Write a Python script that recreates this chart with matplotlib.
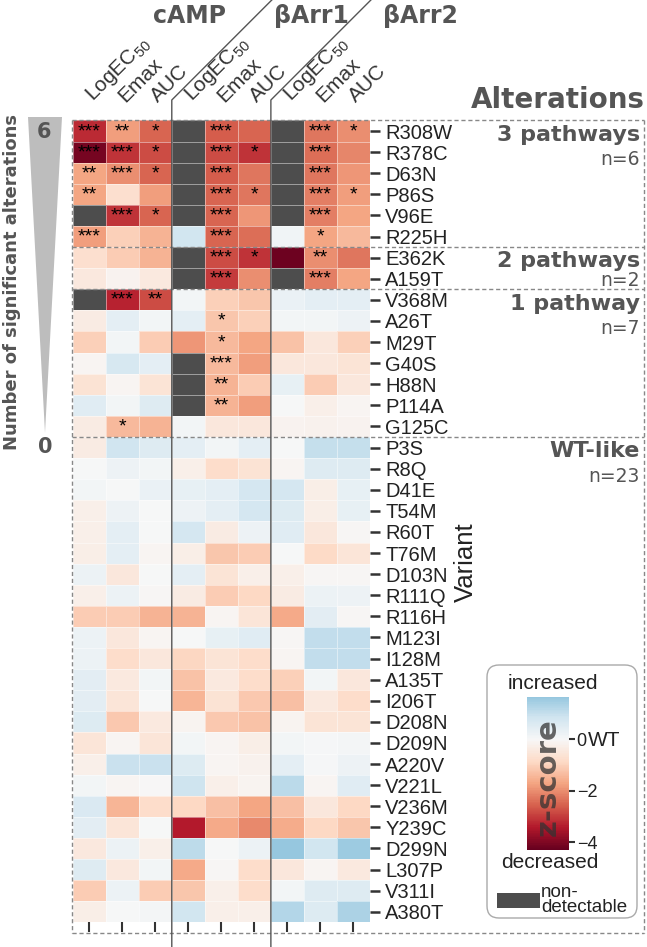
import numpy as np
import matplotlib
matplotlib.use("Agg")
import matplotlib.pyplot as plt
from matplotlib.colors import ListedColormap, Normalize
from matplotlib.cm import ScalarMappable
from matplotlib.patches import Polygon, FancyBboxPatch, Rectangle
import matplotlib.transforms as mtransforms

plt.rcParams['font.family'] = ['Liberation Sans', 'DejaVu Sans']
plt.rcParams['mathtext.default'] = 'regular'

# ---- data ----
variants = ['R308W', 'R378C', 'D63N', 'P86S', 'V96E', 'R225H',
            'E362K', 'A159T',
            'V368M', 'A26T', 'M29T', 'G40S', 'H88N', 'P114A', 'G125C',
            'P3S', 'R8Q', 'D41E', 'T54M', 'R60T', 'T76M', 'D103N', 'R111Q',
            'R116H', 'M123I', 'I128M', 'A135T', 'I206T', 'D208N', 'D209N',
            'A220V', 'V221L', 'V236M', 'Y239C', 'D299N', 'L307P', 'V311I', 'A380T']
pathways = ['cAMP', 'βArr1', 'βArr2']
measures = ['LogEC$_{50}$', 'Emax', 'AUC']
group_names = ['3 pathways', '2 pathways', '1 pathway', 'WT-like']
group_sizes = [6, 2, 7, 23]

nan = np.nan
# z-scores: cAMP (LogEC50, Emax, AUC), bArr1 (...), bArr2 (...); nan = non-detectable
zscores = np.array([
    [-3.2, -1.8, -2.5, nan, -2.6, -2.5, nan, -2.3, -2.0],
    [-4.1, -3.1, -2.8, nan, -2.8, -3.1, nan, -2.4, -2.1],
    [-1.7, -2.0, -2.5, nan, -2.6, -2.3, nan, -2.3, -1.9],
    [-1.7, -0.7, -1.8, nan, -2.5, -2.3, nan, -2.2, -1.8],
    [nan, -3.1, -2.5, nan, -2.5, -1.9, nan, -2.2, -1.7],
    [-1.8, -1.0, -1.5, 0.8, -2.5, -2.4, 0.15, -1.7, -1.4],
    [-0.7, -1.1, -1.5, nan, -2.8, -3.1, -4.2, -2.0, -2.3],
    [-0.45, -0.15, -0.4, nan, -3.0, -2.0, nan, -2.2, -1.7],
    [nan, -3.3, -2.8, 0.1, -1.0, -1.2, 0.3, 0.4, 0.4],
    [-0.35, 0.4, 0.1, 0.4, -1.2, -1.0, 0.1, 0.1, 0.2],
    [-1.0, 0.1, -1.1, -1.9, -1.4, -1.7, -1.25, -0.5, -1.0],
    [-0.1, 0.7, 0.4, nan, -1.4, -1.8, -0.5, -0.5, -0.6],
    [-0.65, -0.1, -0.6, nan, -1.5, -1.1, 0.35, -1.1, -0.5],
    [0.5, 0.1, 0.55, nan, -1.5, -1.8, 0.02, -0.25, -0.1],
    [-0.35, -1.4, -1.5, 0.1, -0.5, -0.5, -0.15, -0.2, -0.15],
    [-0.35, 0.85, 0.55, 0.4, 0.1, 0.4, 0.0, 1.0, 1.0],
    [0.0, 0.2, 0.1, -0.25, -0.8, -0.65, -0.1, 0.55, 0.55],
    [0.12, 0.0, 0.3, 0.35, 0.4, 0.75, 0.75, -0.3, 0.35],
    [-0.25, 0.2, 0.0, 0.2, 0.4, 0.75, 0.6, -0.3, 0.35],
    [-0.25, 0.4, 0.0, 0.75, -0.35, 0.2, 0.5, -0.5, -0.05],
    [-0.3, 0.4, -0.1, -0.3, -1.2, -1.1, 0.0, -0.85, -0.55],
    [0.25, -0.5, 0.0, 0.4, -0.6, -0.25, -0.25, -0.05, -0.05],
    [-0.25, 0.25, -0.05, -0.35, -1.1, -0.9, -0.35, 0.25, 0.2],
    [-1.1, -1.1, -1.5, -1.5, -0.1, -0.55, -1.65, 0.45, -0.05],
    [0.25, -0.5, -0.1, 0.0, 0.35, 0.5, -0.05, 1.05, 1.05],
    [0.25, -0.8, -0.5, -0.95, -0.6, -0.8, -0.1, 1.05, 1.05],
    [0.45, -0.4, 0.12, -1.25, -0.4, -0.8, -1.0, 0.1, -0.5],
    [0.45, -0.55, 0.0, -1.45, -0.65, -1.15, -1.3, -0.4, -0.8],
    [0.6, -1.15, -0.4, -0.12, -1.15, -1.25, -0.12, -0.6, -0.6],
    [-0.55, -0.1, -0.55, 0.1, -0.1, -0.3, 0.12, 0.05, 0.08],
    [-0.25, 0.95, 0.95, 0.6, -0.1, -0.2, 0.4, 0.03, 0.22],
    [0.1, -0.1, -0.03, 0.9, -0.25, -0.12, 1.15, -0.1, 0.5],
    [0.65, -1.45, -0.8, -0.9, -1.3, -1.7, -1.3, -0.5, -0.9],
    [0.45, -0.55, 0.0, -3.4, -1.65, -2.05, -1.6, -0.9, -1.2],
    [-0.45, 0.25, -0.25, 1.1, 0.0, 0.25, 1.65, 0.8, 1.55],
    [0.55, -0.45, 0.1, -1.65, -0.05, -0.8, -0.5, -0.1, -0.4],
    [-1.1, 0.25, -1.1, -1.2, -0.25, -0.8, 0.1, 0.55, 0.55],
    [-0.3, 0.0, 0.08, 0.8, -0.25, -0.25, 1.25, 0.6, 1.35],
])

# number of significance stars per cell (altered variants only, rest are 0)
n_stars = np.array([
    [3, 2, 1, 0, 3, 0, 0, 3, 1],
    [3, 3, 1, 0, 3, 1, 0, 3, 0],
    [2, 3, 1, 0, 3, 0, 0, 3, 0],
    [2, 0, 0, 0, 3, 1, 0, 3, 1],
    [0, 3, 1, 0, 3, 0, 0, 3, 0],
    [3, 0, 0, 0, 3, 0, 0, 1, 0],
    [0, 0, 0, 0, 3, 1, 0, 2, 0],
    [0, 0, 0, 0, 3, 0, 0, 3, 0],
    [0, 3, 2, 0, 0, 0, 0, 0, 0],
    [0, 0, 0, 0, 1, 0, 0, 0, 0],
    [0, 0, 0, 0, 1, 0, 0, 0, 0],
    [0, 0, 0, 0, 3, 0, 0, 0, 0],
    [0, 0, 0, 0, 2, 0, 0, 0, 0],
    [0, 0, 0, 0, 2, 0, 0, 0, 0],
    [0, 1, 0, 0, 0, 0, 0, 0, 0],
] + [[0] * 9] * 23)

z_min, z_max = -4.3, 1.65

# ---- figure (work in pixels) ----
W, H = 647, 947
fig = plt.figure(figsize=(W / 100, H / 100), dpi=100)
grey = '#555555'

hm_left, hm_top, col_w, row_h = 72.7, 120.5, 33.03, 21.1
n_rows, n_cols = zscores.shape
hm_right = hm_left + n_cols * col_w
hm_bottom = hm_top + n_rows * row_h

ax = fig.add_axes([hm_left / W, 1 - hm_bottom / H, (hm_right - hm_left) / W, (hm_bottom - hm_top) / H])

# seaborn-like centred colormap: RdBu around 0, cut at the data range
span = max(-z_min, z_max)
cmap = ListedColormap(plt.cm.RdBu(np.linspace(0.5 + z_min / (2 * span), 0.5 + z_max / (2 * span), 256)))
cmap.set_bad('#4d4d4d')
norm = Normalize(z_min, z_max)

ax.pcolormesh(np.arange(n_cols + 1), np.arange(n_rows + 1), np.ma.masked_invalid(zscores),
              cmap=cmap, norm=norm, edgecolors=(1, 1, 1, 0.45), linewidth=0.6)
ax.set_xlim(0, n_cols)
ax.set_ylim(n_rows, 0)
for s in ax.spines.values():
    s.set_visible(False)

for i in range(n_rows):
    for j in range(n_cols):
        if n_stars[i, j]:
            ax.text(j + 0.5, i + 0.52, '*' * n_stars[i, j], ha='center', va='center',
                    fontsize=14, color='black')

ax.yaxis.tick_right()
ax.set_yticks(np.arange(n_rows) + 0.5)
ax.set_yticklabels(variants)
ax.set_xticks(np.arange(n_cols) + 0.5)
ax.set_xticklabels([])
ax.tick_params(axis='y', length=7, width=1.8, pad=4, labelsize=14.5, color='#333333', labelcolor='#222222')
ax.tick_params(axis='x', length=7, width=1.5, color='#333333')

# dashed group boxes
bt = mtransforms.blended_transform_factory(ax.transAxes, ax.transData)
x_lo = (71.5 - hm_left) / (hm_right - hm_left)
x_hi = (644 - hm_left) / (hm_right - hm_left)
y_box_bottom = n_rows + (933 - hm_bottom) / row_h
dash = dict(color='#888888', lw=1, ls=(0, (3, 2)), clip_on=False, transform=bt)
bounds = np.concatenate([[0], np.cumsum(group_sizes)])
for b in bounds[:-1]:
    ax.plot([x_lo, x_hi], [b, b], **dash)
ax.plot([x_lo, x_hi], [y_box_bottom, y_box_bottom], **dash)
ax.plot([x_lo, x_lo], [0, y_box_bottom], **dash)
ax.plot([x_hi, x_hi], [0, y_box_bottom], **dash)

x_txt = (640 - hm_left) / (hm_right - hm_left)
for name, start, size in zip(group_names, bounds[:-1], group_sizes):
    ax.text(x_txt, start + 0.68, name, ha='right', va='center', fontsize=16,
            fontweight='bold', family='DejaVu Sans', color=grey, transform=bt)
    ax.text(x_txt, start + min(1.85, size - 0.42), f'n={size}', ha='right', va='center',
            fontsize=13.5, family='DejaVu Sans', color=grey, transform=bt)

# ---- overlay in pixel coordinates ----
ov = fig.add_axes([0, 0, 1, 1])
ov.set_xlim(0, W)
ov.set_ylim(H, 0)
ov.axis('off')

# column labels and group headers
for j in range(n_cols):
    cx = hm_left + (j + 0.5) * col_w
    ov.text(cx - 8, 106, measures[j % 3], rotation=45, ha='left', va='bottom',
            fontsize=15, color='#333333')
for name, x in zip(pathways, [190, 311, 420]):
    ov.text(x, 16, name, ha='center', va='center', fontsize=17, fontweight='bold',
            family='DejaVu Sans', color=grey)
for k in (3, 6):
    xb = hm_left + k * col_w
    ov.plot([xb, xb, xb + 100], [H, 100, 0], color='#555555', lw=1)

ov.text(645, 100, 'Alterations', ha='right', va='center', fontsize=20, fontweight='bold',
        family='DejaVu Sans', color=grey)

# significance wedge
ov.add_patch(Polygon([(28, 117), (62, 117), (45, 433)], closed=True, fc='#bdbdbd', ec='none'))
ov.text(44, 132, '6', ha='center', va='center', fontsize=15, fontweight='bold',
        family='DejaVu Sans', color=grey)
ov.text(45, 447, '0', ha='center', va='center', fontsize=15, fontweight='bold',
        family='DejaVu Sans', color=grey)
ov.text(12, 282, 'Number of significant alterations', rotation=90, ha='center', va='center',
        fontsize=13, fontweight='bold', family='DejaVu Sans', color=grey)

ov.text(466, 562, 'Variant', rotation=90, ha='center', va='center', fontsize=18.5, color='#222222')

# legend box
ov.add_patch(FancyBboxPatch((487, 665), 150, 253, boxstyle='round,pad=0,rounding_size=12',
                            fc='white', ec='#aaaaaa', lw=1))
ov.text(553, 683, 'increased', ha='center', va='center', fontsize=15, color='#222222')
ov.text(550, 862, 'decreased', ha='center', va='center', fontsize=15, color='#222222')
ov.text(588, 740, 'WT', ha='left', va='center', fontsize=15, color='#222222')
ov.add_patch(Rectangle((497, 893), 43, 15, fc='#4d4d4d', ec='none'))
ov.text(541, 900, 'non-\ndetectable', ha='left', va='center', fontsize=13.5,
        linespacing=0.8, color='#222222')

cax = fig.add_axes([527 / W, 1 - 850 / H, 42 / W, 153 / H])
cb = fig.colorbar(ScalarMappable(norm=norm, cmap=cmap), cax=cax)
cb.outline.set_visible(False)
cb.set_ticks([0, -2, -4])
cb.set_ticklabels(['0', '\u22122', '\u22124'])
cax.tick_params(length=4, width=1.5, pad=1.5, labelsize=13, color='#333333', labelcolor='#222222')
cax.text(0.5, 0.477, 'z-score', rotation=90, ha='center', va='center', fontsize=21,
         fontweight='bold', family='DejaVu Sans', color='#333333', alpha=0.75,
         transform=cax.transAxes)

fig.savefig('out.png', dpi=100)
